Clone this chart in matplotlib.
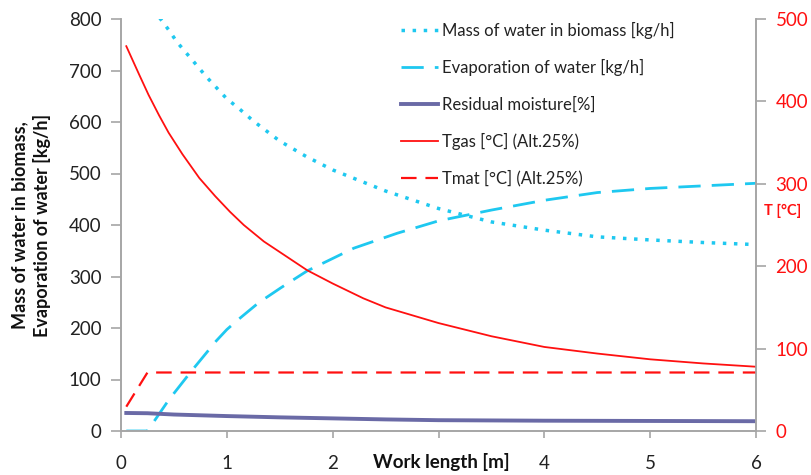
import matplotlib
matplotlib.use("Agg")
import matplotlib.pyplot as plt

plt.rcParams['font.family'] = ['Lato', 'DejaVu Sans']

# Data
x_mass = [0.05, 0.25, 0.37, 0.45, 0.53, 0.72, 0.81, 1.0, 1.11, 1.25, 1.5, 1.75, 2.0, 2.5, 3.0, 3.5, 4.0, 4.5, 5.0, 5.5, 6.0]
mass_water = [900, 840, 801, 779, 755, 709, 687, 645, 627, 602, 563, 533, 507, 466, 432, 406, 390, 377, 371, 366, 362]

x_evap = [0.05, 0.25, 0.45, 0.66, 0.9, 1.0, 1.1, 1.3, 1.51, 1.76, 2.0, 2.2, 2.61, 3.0, 3.5, 4.0, 4.5, 5.0, 5.5, 6.0]
evaporation = [0, 0, 60, 115, 175, 197, 215, 249, 278, 311, 335, 355, 384, 408, 429, 448, 463, 471, 476, 481]

x_res = [0.05, 0.25, 0.5, 1.0, 1.5, 2.0, 2.5, 3.0, 4.0, 5.0, 6.0]
residual = [35, 34.5, 32, 29, 26.5, 24.5, 22.5, 21, 20, 19.5, 19]

x_tgas = [0.05, 0.17, 0.26, 0.36, 0.45, 0.58, 0.74, 0.89, 1.03, 1.16, 1.35, 1.76, 2.0, 2.29, 2.5, 3.0, 3.5, 4.0, 4.5, 5.0, 5.5, 6.0]
tgas = [467, 433, 408, 383, 362, 336, 307, 285, 266, 250, 230, 195, 179, 161, 150, 131, 115, 102, 94, 87, 82, 78]

x_tmat = [0.05, 0.25, 6.0]
tmat = [29.5, 71, 71]

x_ticks = [0, 1, 2, 3, 4, 5, 6]
x_ticklabels = ['0', '1', '2', '', '4', '5', '6']
left_ticks = [0, 100, 200, 300, 400, 500, 600, 700, 800]
right_ticks = [0, 100, 200, 300, 400, 500]

labels = ["Mass of water in biomass [kg/h]", "Evaporation of water [kg/h]",
          "Residual moisture[%]", "Tgas [°C] (Alt.25%)", "Tmat [°C] (Alt.25%)"]

cyan = '#1EC8F0'
red = '#FF1010'
purple = '#6A6AA6'
gray = '#A6A6A6'

fig = plt.figure(figsize=(8.11, 4.75), dpi=100)
ax = fig.add_axes([121/811, 1-431/475, (756-121)/811, (431-19)/475])
ax2 = ax.twinx()

l1, = ax.plot(x_mass, mass_water, color=cyan, lw=2.5, linestyle=(0, (1, 2.2)))
l2, = ax.plot(x_evap, evaporation, color=cyan, lw=2.0, linestyle=(0, (8, 4)))
l3, = ax.plot(x_res, residual, color=purple, lw=2.8)
l4, = ax2.plot(x_tgas, tgas, color=red, lw=1.3)
l5, = ax2.plot(x_tmat, tmat, color=red, lw=1.6, linestyle=(0, (7, 4)))

ax.set_xlim(0, 6)
ax.set_ylim(0, 800)
ax2.set_ylim(0, 500)
ax.set_xticks(x_ticks)
ax.set_xticklabels(x_ticklabels)
ax.set_yticks(left_ticks)
ax2.set_yticks(right_ticks)

for a in (ax, ax2):
    for s in a.spines.values():
        s.set_color(gray)
        s.set_linewidth(1.2)
    a.spines['top'].set_visible(False)

ax.tick_params(axis='x', direction='out', length=5, width=1.2, color=gray, pad=12, labelsize=13.5, labelcolor='#222222')
ax.tick_params(axis='y', direction='out', length=7, width=1.2, color=gray, pad=7, labelsize=13.5, labelcolor='#222222')
ax2.tick_params(axis='y', direction='out', length=7, width=1.2, color=gray, pad=7, labelsize=13.5, labelcolor=red)

fig.text(441/811, 1-462/475, "Work length [m]", fontsize=13.5, fontweight='bold', ha='center', va='center',
         color='#111111')
fig.text(31/811, 1-225/475, "Mass of water in biomass,\nEvaporation of water [kg/h]", fontsize=13,
         fontweight='bold', rotation=90, ha='center', va='center', linespacing=1.35, color='#111111')
fig.text(783/811, 1-211/475, "T [°C]", fontsize=10.5, fontweight='bold', color=red, ha='center', va='center')

leg = ax.legend([l1, l2, l3, l4, l5], labels, loc='upper left', bbox_to_anchor=((386-121)/635, 1.03),
                frameon=False, fontsize=12, handlelength=2.2, labelspacing=1.22, handletextpad=0.25)
for t in leg.get_texts():
    t.set_color('#222222')

fig.savefig("out.png", dpi=100)
